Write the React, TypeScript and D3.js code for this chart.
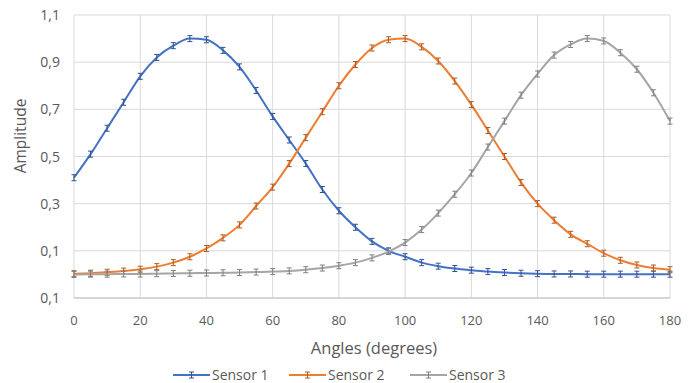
import React, { useEffect, useRef } from 'react'
import * as d3 from 'd3'

const angles = [0, 5, 10, 15, 20, 25, 30, 35, 40, 45, 50, 55, 60, 65, 70, 75, 80, 85, 90, 95, 100, 105, 110, 115, 120, 125, 130, 135, 140, 145, 150, 155, 160, 165, 170, 175, 180]

const sensor1 = [0.41, 0.51, 0.62, 0.73, 0.84, 0.92, 0.97, 1.0, 0.995, 0.95, 0.88, 0.78, 0.67, 0.57, 0.47, 0.36, 0.27, 0.2, 0.14, 0.1, 0.075, 0.05, 0.035, 0.025, 0.018, 0.012, 0.008, 0.005, 0.003, 0.002, 0.002, 0.001, 0.001, 0.001, 0.001, 0.001, 0.001]
const sensor2 = [0.003, 0.005, 0.009, 0.014, 0.022, 0.033, 0.05, 0.075, 0.11, 0.155, 0.21, 0.29, 0.37, 0.47, 0.58, 0.69, 0.8, 0.89, 0.96, 0.995, 1.0, 0.965, 0.905, 0.82, 0.72, 0.61, 0.5, 0.39, 0.3, 0.23, 0.17, 0.13, 0.09, 0.06, 0.04, 0.027, 0.02]
const sensor3 = [0.0, 0.001, 0.001, 0.002, 0.002, 0.003, 0.004, 0.005, 0.006, 0.007, 0.008, 0.01, 0.012, 0.015, 0.02, 0.027, 0.037, 0.05, 0.07, 0.097, 0.135, 0.19, 0.26, 0.34, 0.43, 0.54, 0.65, 0.76, 0.85, 0.93, 0.975, 1.0, 0.99, 0.94, 0.87, 0.77, 0.65]

const seriesNames = ['Sensor 1', 'Sensor 2', 'Sensor 3']
const seriesColors = ['#4472c4', '#ed7d31', '#a5a5a5']
const markerColors = ['#2f528f', '#ae5a21', '#7f7f7f']
const xTicks = [0, 20, 40, 60, 80, 100, 120, 140, 160, 180]
const yTicks = [-0.1, 0.1, 0.3, 0.5, 0.7, 0.9, 1.1]
const yTickLabels = ['0,1', '0,1', '0,3', '0,5', '0,7', '0,9', '1,1']

export default function App() {
  const ref = useRef<SVGSVGElement>(null)

  useEffect(() => {
    const svg = d3.select(ref.current)
    svg.selectAll('*').remove()

    const left = 74, right = 670, top = 15, bottom = 298
    const x = d3.scaleLinear().domain([0, 180]).range([left, right])
    const y = d3.scaleLinear().domain([-0.1, 1.1]).range([bottom, top])
    const font = "'Open Sans', sans-serif"
    const textColor = '#595959'

    svg.append('rect').attr('width', 694).attr('height', 383).attr('fill', '#fff')

    // grid
    svg.append('g').selectAll('line').data(yTicks).enter().append('line')
      .attr('x1', left).attr('x2', right)
      .attr('y1', d => y(d)).attr('y2', d => y(d))
      .attr('stroke', '#d9d9d9').attr('stroke-width', 1)
    svg.append('g').selectAll('line').data(xTicks).enter().append('line')
      .attr('x1', d => x(d)).attr('x2', d => x(d))
      .attr('y1', top).attr('y2', bottom)
      .attr('stroke', '#d9d9d9').attr('stroke-width', 1)

    // axis line
    svg.append('line').attr('x1', left).attr('x2', right)
      .attr('y1', bottom).attr('y2', bottom)
      .attr('stroke', '#bfbfbf')

    // tick labels
    svg.append('g').selectAll('text').data(yTicks).enter().append('text')
      .attr('x', 60).attr('y', d => y(d) + 5)
      .attr('text-anchor', 'end')
      .attr('font-family', font).attr('font-size', 14).attr('fill', textColor)
      .text((d, i) => yTickLabels[i])
    svg.append('g').selectAll('text').data(xTicks).enter().append('text')
      .attr('x', d => x(d)).attr('y', bottom + 27)
      .attr('text-anchor', 'middle')
      .attr('font-family', font).attr('font-size', 13).attr('fill', textColor)
      .text(d => d)

    // titles
    svg.append('text').attr('x', 374).attr('y', 354)
      .attr('text-anchor', 'middle')
      .attr('font-family', font).attr('font-size', 16.5).attr('fill', textColor)
      .text('Angles (degrees)')
    svg.append('text')
      .attr('transform', `translate(26, 136) rotate(-90)`)
      .attr('text-anchor', 'middle')
      .attr('font-family', font).attr('font-size', 15.5).attr('fill', textColor)
      .text('Amplitude')

    const line = d3.line<number>()
      .x((d, i) => x(angles[i]))
      .y(d => y(d))
      .curve(d3.curveMonotoneX)

    const allSeries = [sensor1, sensor2, sensor3]
    allSeries.forEach((values, s) => {
      svg.append('path').datum(values)
        .attr('d', line)
        .attr('fill', 'none')
        .attr('stroke', seriesColors[s])
        .attr('stroke-width', 2)

      // small error-bar style markers
      const g = svg.append('g')
      values.forEach((v, i) => {
        const cx = x(angles[i]), cy = y(v)
        g.append('path')
          .attr('d', `M${cx - 2.5},${cy - 3}H${cx + 2.5}M${cx},${cy - 3}V${cy + 3}M${cx - 2.5},${cy + 3}H${cx + 2.5}`)
          .attr('stroke', markerColors[s])
          .attr('stroke-width', 1)
          .attr('fill', 'none')
      })
    })

    // legend
    const legendX = [173, 289, 410]
    const legendY = 375
    seriesNames.forEach((name, s) => {
      const lx = legendX[s]
      svg.append('line').attr('x1', lx).attr('x2', lx + 37)
        .attr('y1', legendY).attr('y2', legendY)
        .attr('stroke', seriesColors[s]).attr('stroke-width', 2)
      svg.append('path')
        .attr('d', `M${lx + 16},${legendY - 3}H${lx + 21}M${lx + 18.5},${legendY - 3}V${legendY + 3}M${lx + 16},${legendY + 3}H${lx + 21}`)
        .attr('stroke', markerColors[s]).attr('fill', 'none')
      svg.append('text').attr('x', lx + 39).attr('y', legendY + 5)
        .attr('font-family', font).attr('font-size', 14).attr('fill', textColor)
        .text(name)
    })
  }, [])

  return (
    <svg ref={ref} width={694} height={383} style={{ position: 'absolute', left: 0, top: 0 }} />
  )
}
